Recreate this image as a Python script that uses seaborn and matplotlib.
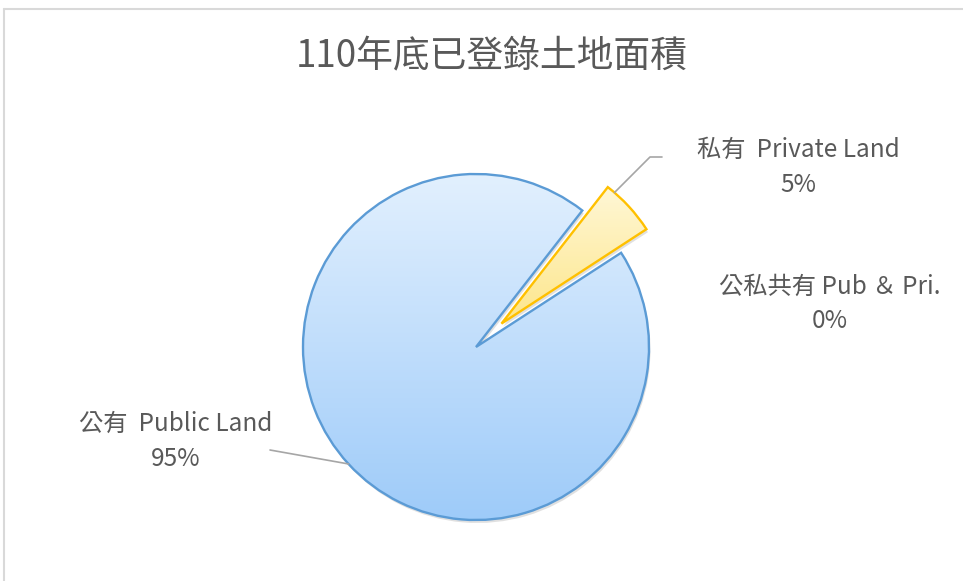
import matplotlib
matplotlib.use("Agg")
import matplotlib.pyplot as plt
import matplotlib.patches as mpatches
from matplotlib.colors import LinearSegmentedColormap
from matplotlib.lines import Line2D
import numpy as np
import seaborn as sns

# data
categories = ["公有  Public Land", "私有  Private Land", "公私共有 Pub ＆ Pri."]
shares = [94.70, 5.28, 0.02]
explode = [0.0, 0.2, 0.0]
title = "110年底已登錄土地面積"

sns.set_theme(style="white")
plt.rcParams["font.family"] = ["Noto Sans CJK TC", "DejaVu Sans"]

edge_cols = ["#5b9bd5", "#ffc000", "none"]
grad_cols = [("#e2f0fe", "#9ecbf9"), ("#fff7d6", "#fde68a"), ("#eeeeee", "#c9c9c9")]
txt = "#595959"

W, H = 963, 581
fig = plt.figure(figsize=(W / 100, H / 100), dpi=100)
ax = fig.add_axes([0, 0, 1, 1])

cx, cy, R = 476, 234, 173
# matplotlib's explode is in data units, so scale by the radius
wedges, _ = ax.pie(shares, explode=[e * R for e in explode], startangle=33,
                   counterclock=False, center=(cx, cy), radius=R, frame=True,
                   wedgeprops=dict(linewidth=1.7, zorder=3))

for w, ec, (c0, c1) in zip(wedges, edge_cols, grad_cols):
    w.set_edgecolor(ec)
    w.set_facecolor("none")
    # soft shadow
    sh = mpatches.Wedge((w.center[0] + 1.5, w.center[1] - 3), w.r, w.theta1, w.theta2,
                        facecolor="#d4d4d4", edgecolor="none", alpha=0.7, zorder=1)
    ax.add_patch(sh)
    # vertical gradient fill clipped to wedge
    ext = w.get_path().get_extents()
    cmap = LinearSegmentedColormap.from_list("g", [c1, c0])
    grad = np.linspace(0, 1, 256).reshape(-1, 1)
    im = ax.imshow(grad, cmap=cmap, origin="lower", aspect="auto",
                   extent=[ext.x0, ext.x1, ext.y0, ext.y1], zorder=2)
    im.set_clip_path(w)

ax.set_xlim(0, W)
ax.set_ylim(0, H)
ax.set_aspect("equal")
ax.axis("off")

ax.text(492, H - 57, title, ha="center", va="center", fontsize=26.5, color=txt)

fs = 17.5
labels = [f"{c}\n{round(s):.0f}%" for c, s in zip(categories, shares)]
label_pos = [(176, H - 441), (798, H - 167), (830, H - 304)]
for lab, (lx, ly) in zip(labels, label_pos):
    ax.text(lx, ly, lab, ha="center", va="center", fontsize=fs, color=txt,
            linespacing=1.45, zorder=5)

# leader lines
def edge_point(w, frac):
    ang = np.deg2rad(w.theta1 + frac * (w.theta2 - w.theta1))
    return w.center[0] + w.r * np.cos(ang), w.center[1] + w.r * np.sin(ang)

px, py = edge_point(wedges[0], 0.5)
ax.plot([270, px], [H - 450, py], color="#a6a6a6", lw=1.2, zorder=4)
qx, qy = edge_point(wedges[1], 0.85)
ax.plot([qx, 650, 662], [qy, H - 157, H - 157], color="#a6a6a6", lw=1.2, zorder=4)

# chart border
fig.add_artist(Line2D([4 / W, 4 / W], [0, 1 - 9 / H], transform=fig.transFigure,
                      color="#d9d9d9", lw=1.5))
fig.add_artist(Line2D([4 / W, 1], [1 - 9 / H, 1 - 9 / H], transform=fig.transFigure,
                      color="#d9d9d9", lw=1.5))

fig.savefig("out.png", dpi=100)
